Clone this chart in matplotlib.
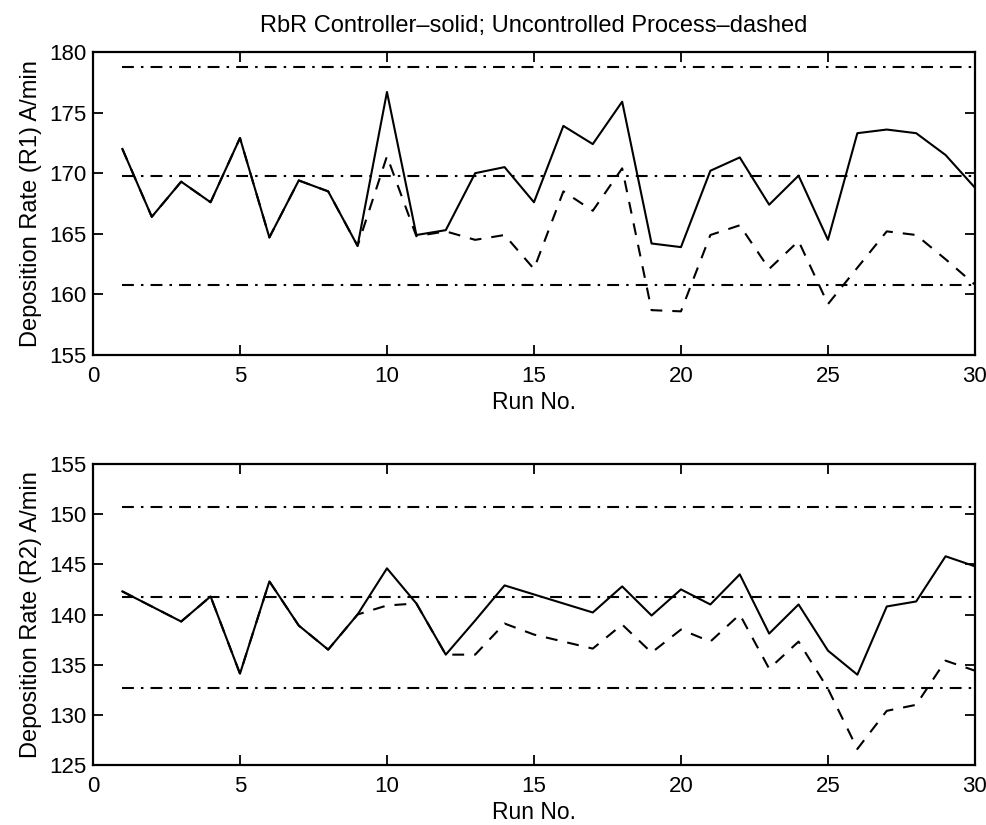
import matplotlib
matplotlib.use("Agg")
import matplotlib.pyplot as plt

# Run numbers
runs = list(range(1, 31))

# Deposition rate R1: RbR controller (solid) and uncontrolled process (dashed)
r1_rbr = [172.0, 166.4, 169.3, 167.6, 172.9, 164.7, 169.4, 168.5, 164.0, 176.7,
          164.9, 165.3, 170.0, 170.5, 167.6, 173.9, 172.4, 175.9, 164.2, 163.9,
          170.2, 171.3, 167.4, 169.8, 164.5, 173.3, 173.6, 173.3, 171.5, 168.8]
r1_open = [172.0, 166.4, 169.3, 167.6, 172.9, 164.7, 169.4, 168.5, 164.0, 171.4,
           164.8, 165.2, 164.5, 164.9, 162.1, 168.5, 166.9, 170.4, 158.7, 158.6,
           164.9, 165.7, 162.1, 164.4, 159.2, 162.2, 165.2, 164.9, 162.9, 160.8]
# upper limit, target, lower limit
r1_limits = [178.8, 169.8, 160.8]

# Deposition rate R2
r2_rbr = [142.3, 140.8, 139.3, 141.8, 134.1, 143.3, 138.9, 136.5, 140.0, 144.6,
          141.1, 136.0, 139.4, 142.9, 142.0, 141.1, 140.2, 142.8, 139.9, 142.5,
          141.0, 144.0, 138.1, 141.0, 136.4, 134.0, 140.8, 141.3, 145.8, 144.8]
r2_open = [142.3, 140.8, 139.3, 141.8, 134.1, 143.3, 138.9, 136.5, 140.0, 140.9,
           141.1, 136.0, 136.0, 139.1, 138.0, 137.3, 136.6, 139.0, 136.2, 138.5,
           137.3, 140.0, 134.6, 137.3, 132.6, 126.6, 130.4, 131.0, 135.4, 134.4]
r2_limits = [150.7, 141.7, 132.7]

x_ticks = [0, 5, 10, 15, 20, 25, 30]
r1_ticks = [155, 160, 165, 170, 175, 180]
r2_ticks = [125, 130, 135, 140, 145, 150, 155]

plt.rcParams['font.family'] = ['Liberation Sans', 'DejaVu Sans']
FS = 16
LW = 1.5
# dash patterns (scaled by line width)
DASHDOT = (0, (5.7, 3.4, 1.2, 3.4))
DASHED = (0, (5.7, 4.8))


def draw_panel(ax, solid, dashed, limits, yticks, ylabel):
    # limit lines first, then the two runs
    for v in limits:
        ax.plot([runs[0], runs[-1]], [v, v], color='black', lw=LW, linestyle=DASHDOT)
    ax.plot(runs, dashed, color='black', lw=LW, linestyle=DASHED)
    ax.plot(runs, solid, color='black', lw=LW, linestyle='-')

    ax.set_xlim(x_ticks[0], x_ticks[-1])
    ax.set_ylim(yticks[0], yticks[-1])
    ax.set_xticks(x_ticks)
    ax.set_yticks(yticks)
    ax.tick_params(direction='in', top=True, right=True, length=7, width=1.3,
                   labelsize=FS)
    ax.tick_params(axis='x', pad=8)
    ax.tick_params(axis='y', pad=5)
    for s in ax.spines.values():
        s.set_linewidth(1.6)
    ax.set_xlabel('Run No.', fontsize=FS + 0.5, labelpad=3)
    ax.set_ylabel(ylabel, fontsize=FS + 1, labelpad=5)


fig = plt.figure(figsize=(9.87, 8.25), dpi=100)

ax1 = fig.add_axes([0.0942, 0.5697, 0.8936, 0.3673])
draw_panel(ax1, r1_rbr, r1_open, r1_limits, r1_ticks, 'Deposition Rate (R1) A/min')

ax2 = fig.add_axes([0.0942, 0.0727, 0.8936, 0.3649])
draw_panel(ax2, r2_rbr, r2_open, r2_limits, r2_ticks, 'Deposition Rate (R2) A/min')

fig.text(0.541, 0.968, 'RbR Controller\u2013solid; Uncontrolled Process\u2013dashed',
         ha='center', va='center', fontsize=FS + 1)

fig.savefig('out.png', dpi=100)
